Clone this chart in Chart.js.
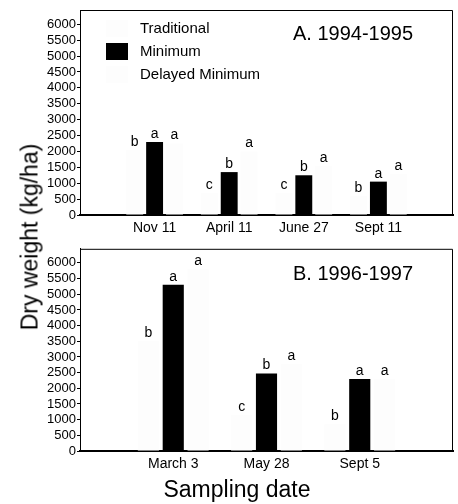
<!DOCTYPE html>
<html><head><meta charset="utf-8">
<script src="https://cdn.jsdelivr.net/npm/chart.js@4"></script>
<style>
html,body{margin:0;padding:0;background:#fff;}
#wrap{position:relative;width:458px;height:504px;overflow:hidden;font-family:'Liberation Sans',Arial,sans-serif;color:#000;}
canvas{position:absolute;left:0;}
#ylab{position:absolute;left:30px;top:237px;transform:translate(-50%,-50%) rotate(-90deg);font-size:23px;line-height:23px;white-space:nowrap;}
#xlab{position:absolute;left:237px;top:478px;transform:translateX(-50%);font-size:23px;line-height:23px;white-space:nowrap;}
</style>
</head><body>
<div id="wrap">
<canvas id="cA" width="458" height="240" style="top:0"></canvas>
<canvas id="cB" width="458" height="240" style="top:240px"></canvas>
<div id="ylab">Dry weight (kg/ha)</div>
<div id="xlab">Sampling date</div>
</div>
<script>
// ---- data ----
const seriesNames = ['Traditional', 'Minimum', 'Delayed Minimum'];
const yTicks = [0,500,1000,1500,2000,2500,3000,3500,4000,4500,5000,5500,6000];

const datesA = ['Nov 11', 'April 11', 'June 27', 'Sept 11'];
const traditionalA = [2050, 700, 700, 600];
const minimumA     = [2300, 1350, 1250, 1050];
const delayedA     = [2250, 2000, 1550, 1300];
const tradLettersA = ['b', 'c', 'c', 'b'];
const minLettersA  = ['a', 'b', 'b', 'a'];
const delLettersA  = ['a', 'a', 'a', 'a'];
const titleA = 'A. 1994-1995';

const datesB = ['March 3', 'May 28', 'Sept 5'];
const traditionalB = [3500, 1150, 850];
const minimumB     = [5300, 2475, 2300];
const delayedB     = [5800, 2775, 2300];
const tradLettersB = ['b', 'c', 'b'];
const minLettersB  = ['a', 'b', 'a'];
const delLettersB  = ['a', 'a', 'a'];
const titleB = 'B. 1996-1997';

// ---- drawing ----
const FONT = "'Liberation Sans', Arial, sans-serif";
const barColors = ['#fdfdfd', '#000000', '#fdfdfd'];
const pad = arr => [null, ...arr, null];

function panelPlugin(title, letters, withLegend) {
  return {
    id: 'panelDeco',
    afterDatasetsDraw(chart) {
      const ctx = chart.ctx, a = chart.chartArea;
      ctx.save();
      ctx.strokeStyle = '#000'; ctx.lineWidth = 1;
      ctx.beginPath();
      ctx.moveTo(a.left, a.top + 0.5);
      ctx.lineTo(a.right - 0.5, a.top + 0.5);
      ctx.lineTo(a.right - 0.5, a.bottom);
      ctx.stroke();
      ctx.fillStyle = '#000';
      ctx.font = '14px ' + FONT;
      ctx.textAlign = 'center';
      ctx.textBaseline = 'alphabetic';
      letters.forEach((arr, di) => {
        const meta = chart.getDatasetMeta(di);
        arr.forEach((L, j) => {
          const el = meta.data[j + 1];
          if (el) ctx.fillText(L, el.x, el.y - 4);
        });
      });
      ctx.font = '20px ' + FONT;
      ctx.textAlign = 'left';
      ctx.fillText(title, 293, 40);
      if (withLegend) {
        ctx.font = '15px ' + FONT;
        ctx.textBaseline = 'middle';
        const rows = [29, 52, 75];
        seriesNames.forEach((n, i) => {
          ctx.fillStyle = barColors[i];
          ctx.fillRect(106, rows[i] - 9, 22, 17);
          ctx.fillStyle = '#000';
          ctx.fillText(n, 140, rows[i]);
        });
      }
      ctx.restore();
    }
  };
}

function makeChart(id, dates, trad, min, del, letters, title, xH, topPad, legend) {
  return new Chart(document.getElementById(id), {
    type: 'bar',
    data: {
      labels: ['', ...dates, ''],
      datasets: [
        { label: seriesNames[0], data: pad(trad), backgroundColor: barColors[0] },
        { label: seriesNames[1], data: pad(min), backgroundColor: barColors[1] },
        { label: seriesNames[2], data: pad(del), backgroundColor: barColors[2] }
      ]
    },
    options: {
      responsive: false,
      animation: false,
      layout: { padding: { left: 0, right: 3, top: topPad, bottom: 0 } },
      plugins: { legend: { display: false }, tooltip: { enabled: false } },
      datasets: { bar: { categoryPercentage: 0.8, barPercentage: 0.85 } },
      scales: {
        x: {
          type: 'category',
          offset: false,
          grid: { display: false, drawTicks: false },
          border: { display: true, color: '#000', width: 2 },
          ticks: { color: '#000', font: { family: FONT, size: 14 }, padding: 5, autoSkip: false, maxRotation: 0 },
          afterFit(s) { s.height = xH; }
        },
        y: {
          min: 0, max: 6450,
          afterBuildTicks(s) { s.ticks = yTicks.map(v => ({ value: v })); },
          grid: { display: true, drawOnChartArea: false, drawTicks: true, tickLength: 3, color: '#000' },
          border: { display: true, color: '#000', width: 1 },
          ticks: { color: '#000', font: { family: FONT, size: 13 }, padding: 1, autoSkip: false,
                   callback: v => String(v) },
          afterFit(s) { s.width = 80; }
        }
      }
    },
    plugins: [panelPlugin(title, letters, legend)]
  });
}

makeChart('cA', datesA, traditionalA, minimumA, delayedA,
  [tradLettersA, minLettersA, delLettersA], titleA, 25, 10, true);
makeChart('cB', datesB, traditionalB, minimumB, delayedB,
  [tradLettersB, minLettersB, delLettersB], titleB, 29, 8, false);
</script>
</body></html>
